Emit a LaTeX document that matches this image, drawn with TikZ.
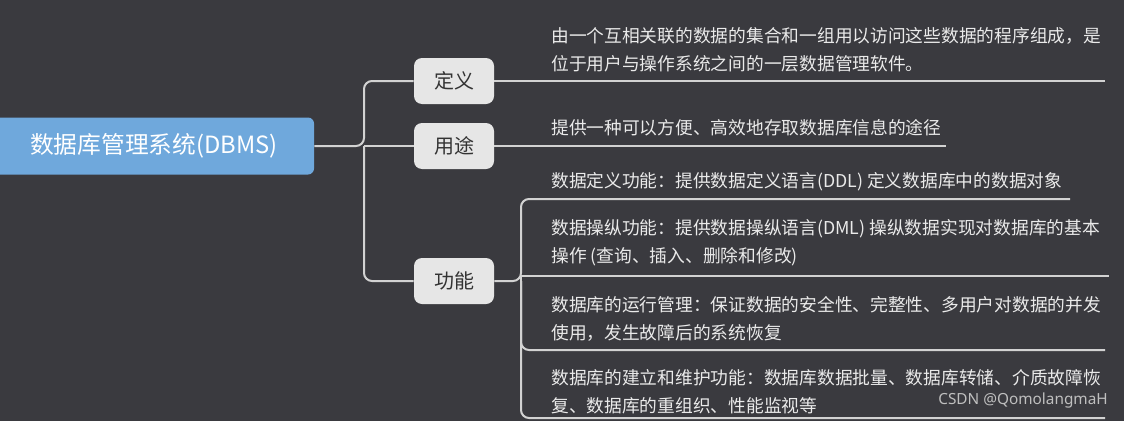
\documentclass[tikz,border=0pt]{standalone}
\usepackage{fontspec}
\setmainfont{Noto Sans CJK SC}
\newfontfamily\markfont{Noto Sans}
\usetikzlibrary{positioning}
\definecolor{bgdark}{HTML}{3A3A3F}
\definecolor{rootblue}{HTML}{6FA8DC}
\definecolor{boxgray}{HTML}{E6E6E6}
\definecolor{linegray}{HTML}{D2D2D2}
\definecolor{textlight}{HTML}{EAEAEA}

\begin{document}
\begin{tikzpicture}[x=0.75pt, y=-0.75pt,
      root/.style={fill=rootblue, rounded corners=4.5pt, minimum width=240pt, minimum height=42.75pt, text=white, font=\fontsize{17.8}{20}\selectfont},
      topic/.style={fill=boxgray, rounded corners=6pt, minimum width=60pt, minimum height=34.5pt, text=black!80, font=\fontsize{15}{18}\selectfont},
      note/.style={anchor=west, inner sep=0pt, align=left, text=textlight, font=\fontsize{13.3}{21}\selectfont},
      link/.style={draw=linegray, line width=1.5pt, rounded corners=6pt}]
      \fill[bgdark] (0,0) rectangle (1124,421);
      \useasboundingbox (0,0) rectangle (1124,421);
      % main topics
      \node[root]  (dbms) at (154,146) {数据库管理系统(DBMS)};
      \node[topic] (def)  at (454,81)  {定义};
      \node[topic] (use)  at (454,146) {用途};
      \node[topic] (func) at (454,281) {功能};
      % branch points and line ends
      \coordinate (trunk) at (364,146);
      \coordinate (fork)  at (521,281);
      \coordinate (defend) at (1105,81);
      \coordinate (useend) at (946,146);
      \coordinate (f1end) at (1070,199);
      \coordinate (f2end) at (1109,276);
      \coordinate (f3end) at (1105,350);
      \coordinate (f4end) at (1105,418);
      % notes
      \node[note] (deftext) at (551,50)  {由一个互相关联的数据的集合和一组用以访问这些数据的程序组成，是\\位于用户与操作系统之间的一层数据管理软件。};
      \node[note] (usetext) at (551,128) {提供一种可以方便、高效地存取数据库信息的途径};
      \node[note] (f1text)  at (551,182) {数据定义功能：提供数据定义语言(DDL) 定义数据库中的数据对象};
      \node[note] (f2text)  at (551,243) {数据操纵功能：提供数据操纵语言(DML) 操纵数据实现对数据库的基本\\操作 (查询、插入、删除和修改)};
      \node[note] (f3text)  at (551,319) {数据库的运行管理：保证数据的安全性、完整性、多用户对数据的并发\\使用，发生故障后的系统恢复};
      \node[note] (f4text)  at (551,392) {数据库的建立和维护功能：数据库数据批量、数据库转储、介质故障恢\\复、数据库的重组织、性能监视等};
      \node[anchor=east, inner sep=0pt, text=black!25, font=\markfont\fontsize{11.5}{14}\selectfont] (mark) at (1108,401) {CSDN @QomolangmaH};
      % connectors
      \draw[link] (dbms.east) -- (trunk) |- (def.west);
      \draw[link] (trunk) -- (use.west);
      \draw[link] (trunk) |- (func.west);
      \draw[link] (def.east) -- (defend);
      \draw[link] (use.east) -- (useend);
      \draw[link] (func.east) -- (fork) |- (f1end);
      \draw[link, sharp corners] (fork) |- (f2end);
      \draw[link] (fork) |- (f3end);
      \draw[link] (fork) |- (f4end);
    \end{tikzpicture}
\end{document}
